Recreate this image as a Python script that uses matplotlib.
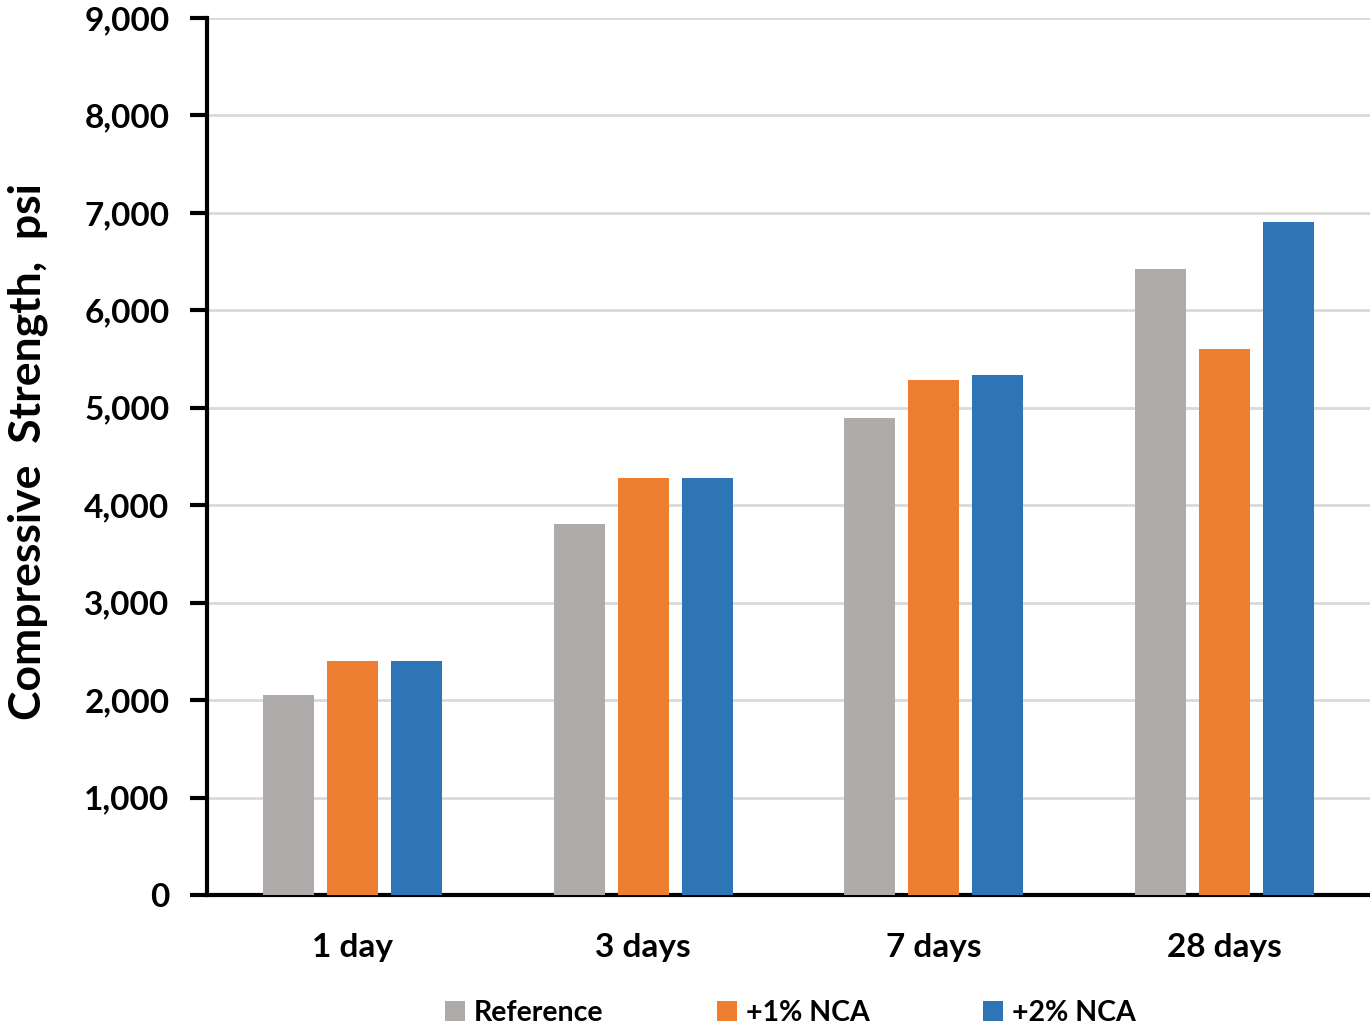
import matplotlib
matplotlib.use("Agg")
import matplotlib.pyplot as plt
import numpy as np
from matplotlib.ticker import FuncFormatter

categories = ["1 day", "3 days", "7 days", "28 days"]
series_names = ["Reference", "+1% NCA", "+2% NCA"]
reference = [2050, 3810, 4900, 6420]
nca1 = [2400, 4280, 5280, 5600]
nca2 = [2400, 4280, 5340, 6910]
colors = ["#AFABAB", "#ED7D31", "#2E75B6"]
yticks = list(range(0, 9001, 1000))

plt.rcParams['font.family'] = ['Lato', 'DejaVu Sans']
plt.rcParams['font.weight'] = 'bold'

fig = plt.figure(figsize=(13.7, 10.31), dpi=100)
ax = fig.add_axes([207/1370, 1-895/1031, 1-207/1370, (895-18)/1031])

x = np.arange(len(categories))
w = 0.175
step = 0.22
for i, (vals, name, c) in enumerate(zip([reference, nca1, nca2], series_names, colors)):
    ax.bar(x + (i-1)*step, vals, width=w, color=c, label=name, zorder=3)

ax.set_xlim(-0.5, 3.5)
ax.set_ylim(0, 9000)
ax.set_yticks(yticks)
ax.yaxis.set_major_formatter(FuncFormatter(lambda v, p: f"{int(v):,}"))
ax.set_xticks(x)
ax.set_xticklabels(categories)
ax.grid(axis='y', color='#D9D9D9', linewidth=2, zorder=0)
ax.set_axisbelow(True)
for s in ['top', 'right']:
    ax.spines[s].set_visible(False)
ax.spines['left'].set_linewidth(3)
ax.spines['bottom'].set_linewidth(3)
ax.tick_params(axis='y', length=12, width=3, labelsize=24, pad=15)
ax.tick_params(axis='x', length=0, labelsize=24, pad=27)
for lbl in ax.get_yticklabels() + ax.get_xticklabels():
    lbl.set_fontweight('bold')

ax.set_ylabel("Compressive  Strength,  psi", fontsize=32, fontweight='bold')
ax.yaxis.set_label_coords(-0.137, 0.506)

leg = fig.legend(loc='center', bbox_to_anchor=(0.577, 1-1013/1031), ncol=3, frameon=False,
                 fontsize=20.5, handlelength=0.7, handleheight=0.7, columnspacing=4.0, handletextpad=0.3)
for t in leg.get_texts():
    t.set_fontweight('bold')

fig.savefig("out.png", dpi=100)
